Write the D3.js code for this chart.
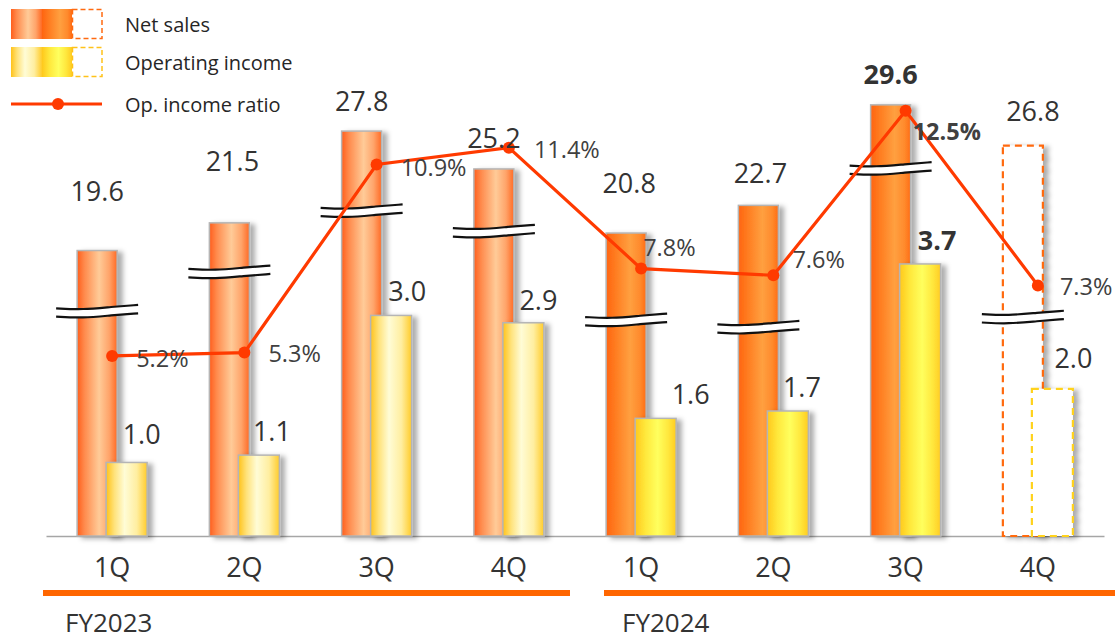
<!DOCTYPE html>
<html>
<head>
<meta charset="utf-8">
<script src="https://cdn.jsdelivr.net/npm/d3@7"></script>
<style>
  body { margin: 0; background: #fff; }
  svg { display: block; }
  text { font-family: "Open Sans", sans-serif; }
</style>
</head>
<body>
<svg id="chart" width="1120" height="639"></svg>
<script>
// ---- data ----
const quarters   = ["1Q", "2Q", "3Q", "4Q", "1Q", "2Q", "3Q", "4Q"];
const fiscalYear = ["FY2023", "FY2023", "FY2023", "FY2023", "FY2024", "FY2024", "FY2024", "FY2024"];
const netSales   = [19.6, 21.5, 27.8, 25.2, 20.8, 22.7, 29.6, 26.8];
const opIncome   = [1.0, 1.1, 3.0, 2.9, 1.6, 1.7, 3.7, 2.0];
const opRatio    = [5.2, 5.3, 10.9, 11.4, 7.8, 7.6, 12.5, 7.3];
const forecast   = [false, false, false, false, false, false, false, true];
const emphasis   = [false, false, false, false, false, false, true, false];
// net-sales level at which the axis-break symbol sits on each bar
const breakAt    = [15.4, 18.1, 22.3, 20.9, 14.8, 14.3, 25.2, 15.0];
const years      = ["FY2023", "FY2024"];

// ---- label placement tweaks (px) ----
const netLabelDx   = [0, 3, 0, 0, 3, 2, 0, 10];
const netLabelDy   = [-50, -52, -20, -21, -40, -22, -21, -25];
const opLabelDx    = [15, 13, 16, 15, 35, 14, 17, 21];
const opLabelDy    = [-18, -14, -14, -13, -14, -14, -14, -21];
const ratioLabelDx = [24, 24, 24, 25, 2, 19, 7, 22];
const ratioLabelDy = [11, 9, 11, 10, -13, -7, 29, 10];

const svg = d3.select("#chart");
const idx = d3.range(quarters.length);

const baseY = 536;
const x = d3.scaleBand().domain(idx).range([46, 1104]).padding(0);
const ySales = d3.scaleLinear().domain([0, 36.8]).range([baseY, 0]);
const yOp    = d3.scaleLinear().domain([0, 7.29]).range([baseY, 0]);
const yRatio = d3.scaleLinear().domain([0, 15.8]).range([530.5, 0]);

const cx = i => x(i) + x.bandwidth() / 2;
const netX = i => cx(i) - 35, netW = 40;
const opX  = i => cx(i) - 6,  opW = 41;

// ---- gradients & shadow ----
const defs = svg.append("defs");
function hGrad(id, stops) {
  const g = defs.append("linearGradient").attr("id", id)
    .attr("x1", "0%").attr("x2", "100%").attr("y1", "0%").attr("y2", "0%");
  stops.forEach(([o, c]) => g.append("stop").attr("offset", o).attr("stop-color", c));
}
hGrad("net23", [["0%", "#ff5e1c"], ["18%", "#ff8a4c"], ["55%", "#ffcb98"], ["80%", "#ffa46a"], ["100%", "#ff6a24"]]);
hGrad("net24", [["0%", "#ff6410"], ["25%", "#ff7e22"], ["60%", "#ffa040"], ["85%", "#ff8a2c"], ["100%", "#ff6c14"]]);
hGrad("op23",  [["0%", "#ffc21a"], ["20%", "#ffe27a"], ["45%", "#fffcd6"], ["75%", "#ffeea0"], ["100%", "#ffcb2a"]]);
hGrad("op24",  [["0%", "#ffc81c"], ["25%", "#ffe83c"], ["55%", "#ffff5e"], ["80%", "#ffe83e"], ["100%", "#ffcc22"]]);

const shadow = defs.append("filter").attr("id", "shadow")
  .attr("x", "-20%").attr("y", "-5%").attr("width", "160%").attr("height", "115%");
shadow.append("feDropShadow").attr("dx", 5).attr("dy", 2).attr("stdDeviation", 2.5)
  .attr("flood-color", "#000").attr("flood-opacity", 0.32);

const textColor = "#333333";
const lineColor = "#ff3a00";

// ---- category axis ----
const xAxis = d3.axisBottom(x).tickSize(0).tickSizeOuter(0).tickFormat(i => quarters[i]);
const gx = svg.append("g").attr("transform", `translate(0,${baseY})`).call(xAxis);
gx.select(".domain").attr("stroke", "#a6a6a6").attr("stroke-width", 1.6);
gx.selectAll(".tick text").attr("y", 41).attr("dy", 0)
  .attr("font-size", 27).attr("fill", textColor).attr("font-family", "Open Sans, sans-serif");

// ---- fiscal-year brackets ----
years.forEach((fy, k) => {
  const members = idx.filter(i => fiscalYear[i] === fy);
  const first = d3.min(members), last = d3.max(members);
  const x0 = k === 0 ? x(first) - 3 : x(first) + 29;
  const x1 = k === 0 ? x(last) + x.bandwidth() - 5 : x(last) + x.bandwidth() + 11;
  svg.append("line").attr("x1", x0).attr("x2", x1).attr("y1", 593).attr("y2", 593)
    .attr("stroke", "#ff6600").attr("stroke-width", 6);
  svg.append("text").attr("x", x0 + (k === 0 ? 22 : 18)).attr("y", 632)
    .attr("font-size", 26).attr("fill", textColor).text(fy);
});

// ---- net sales bars ----
const gNet = svg.append("g");
idx.forEach(i => {
  const r = gNet.append("rect")
    .attr("x", netX(i)).attr("width", netW)
    .attr("y", ySales(netSales[i])).attr("height", baseY - ySales(netSales[i]))
    .attr("filter", "url(#shadow)");
  if (forecast[i]) {
    r.attr("fill", "#fff").attr("stroke", "#ff6a10").attr("stroke-width", 2.2).attr("stroke-dasharray", "7,5");
  } else {
    r.attr("fill", fiscalYear[i] === "FY2023" ? "url(#net23)" : "url(#net24)")
      .attr("stroke", "#b5b5b5").attr("stroke-width", 1.5);
  }
});

// ---- operating income bars ----
const gOp = svg.append("g");
idx.forEach(i => {
  const r = gOp.append("rect")
    .attr("x", opX(i)).attr("width", opW)
    .attr("y", yOp(opIncome[i])).attr("height", baseY - yOp(opIncome[i]))
    .attr("filter", "url(#shadow)");
  if (forecast[i]) {
    r.attr("fill", "#fff").attr("stroke", "#ffd21f").attr("stroke-width", 2.2).attr("stroke-dasharray", "7,5");
  } else {
    r.attr("fill", fiscalYear[i] === "FY2023" ? "url(#op23)" : "url(#op24)")
      .attr("stroke", "#b5b5b5").attr("stroke-width", 1.5);
  }
});

// ---- axis-break symbols on the net sales bars ----
const wave = [[-1, 0.8], [-0.35, 2.2], [0.35, -0.6], [1, -2.6]];
const waveLine = d3.line().curve(d3.curveBasis);
const gBreak = svg.append("g");
idx.forEach(i => {
  const bx = netX(i) + netW / 2, by = ySales(breakAt[i]), hw = 41, gap = 4.2;
  const top = wave.map(([t, o]) => [bx + t * hw, by - gap + o]);
  const bot = wave.map(([t, o]) => [bx + t * hw, by + gap + o]);
  const area = d3.area().curve(d3.curveBasis)
    .x(d => d[0]).y0(d => d[1] - gap).y1(d => d[1] + gap);
  gBreak.append("path").attr("d", area(wave.map(([t, o]) => [bx + t * hw, by + o])))
    .attr("fill", "#fff");
  [top, bot].forEach(p => gBreak.append("path").attr("d", waveLine(p))
    .attr("fill", "none").attr("stroke", "#111").attr("stroke-width", 2.2));
});

// ---- operating income ratio line ----
const ratioLine = d3.line().x(i => cx(i)).y(i => yRatio(opRatio[i]));
svg.append("path").attr("d", ratioLine(idx))
  .attr("fill", "none").attr("stroke", lineColor).attr("stroke-width", 3.2);
svg.append("g").selectAll("circle").data(idx).join("circle")
  .attr("cx", i => cx(i)).attr("cy", i => yRatio(opRatio[i])).attr("r", 6)
  .attr("fill", lineColor);

// ---- value labels ----
const gLab = svg.append("g");
idx.forEach(i => {
  gLab.append("text")
    .attr("x", netX(i) + netW / 2 + netLabelDx[i])
    .attr("y", ySales(netSales[i]) + netLabelDy[i])
    .attr("text-anchor", "middle").attr("font-size", 27)
    .attr("font-weight", emphasis[i] ? 700 : 400)
    .attr("fill", textColor).text(netSales[i].toFixed(1));
  gLab.append("text")
    .attr("x", opX(i) + opW / 2 + opLabelDx[i])
    .attr("y", yOp(opIncome[i]) + opLabelDy[i])
    .attr("text-anchor", "middle").attr("font-size", 27)
    .attr("font-weight", emphasis[i] ? 700 : 400)
    .attr("fill", textColor).text(opIncome[i].toFixed(1));
  gLab.append("text")
    .attr("x", cx(i) + ratioLabelDx[i])
    .attr("y", yRatio(opRatio[i]) + ratioLabelDy[i])
    .attr("font-size", 23.5)
    .attr("font-weight", emphasis[i] ? 700 : 400)
    .attr("fill", "#404040").text(opRatio[i].toFixed(1) + "%");
});

// ---- legend ----
const lg = svg.append("g");
const legendRows = [
  { label: "Net sales", g1: "url(#net23)", g2: "url(#net24)", dash: "#ff6a10", y: 9 },
  { label: "Operating income", g1: "url(#op23)", g2: "url(#op24)", dash: "#ffc21a", y: 47 }
];
legendRows.forEach(r => {
  lg.append("rect").attr("x", 11).attr("y", r.y).attr("width", 31).attr("height", 30).attr("fill", r.g1);
  lg.append("rect").attr("x", 42).attr("y", r.y).attr("width", 30).attr("height", 30).attr("fill", r.g2);
  lg.append("rect").attr("x", 72.5).attr("y", r.y + 0.5).attr("width", 29.5).attr("height", 29)
    .attr("fill", "#fff").attr("stroke", r.dash).attr("stroke-width", 1.5).attr("stroke-dasharray", "5,3");
  lg.append("text").attr("x", 125).attr("y", r.y + 23).attr("font-size", 20)
    .attr("fill", "#262626").text(r.label);
});
lg.append("line").attr("x1", 11).attr("x2", 102).attr("y1", 104).attr("y2", 104)
  .attr("stroke", lineColor).attr("stroke-width", 3.2);
lg.append("circle").attr("cx", 58).attr("cy", 104).attr("r", 6).attr("fill", lineColor);
lg.append("text").attr("x", 125).attr("y", 112).attr("font-size", 20)
  .attr("fill", "#262626").text("Op. income ratio");
</script>
</body>
</html>
